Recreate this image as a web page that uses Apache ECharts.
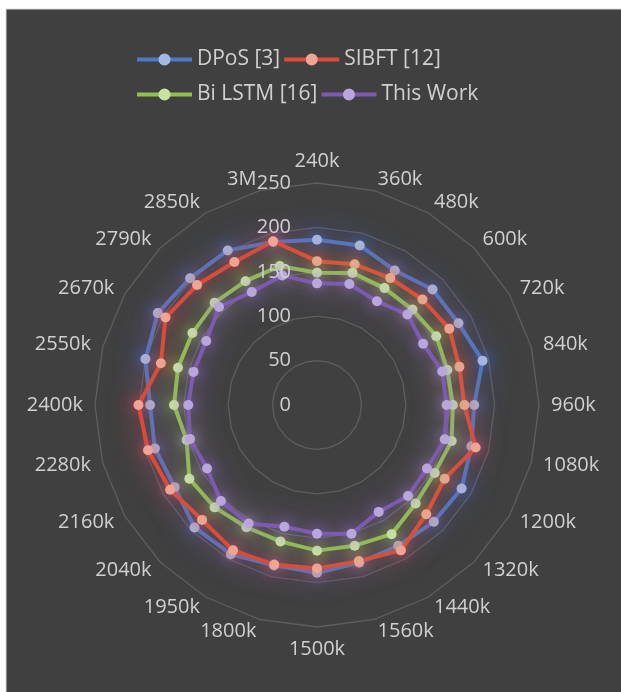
<!DOCTYPE html>
<html>
<head>
<meta charset="utf-8">
<script src="https://cdn.jsdelivr.net/npm/echarts@6/dist/echarts.min.js"></script>
<style>
  html, body { margin: 0; padding: 0; background: #ffffff; }
  #chart { width: 621px; height: 692px; }
</style>
</head>
<body>
<div id="chart"></div>
<script>
// Throughput points around the radar, listed clockwise from the top
const categories = ['240k', '360k', '480k', '600k', '720k', '840k', '960k', '1080k',
  '1200k', '1320k', '1440k', '1560k', '1500k', '1800k', '1950k', '2040k', '2160k',
  '2280k', '2400k', '2550k', '2670k', '2790k', '2850k', '3M'];

const dposValues     = [186, 186, 175, 184, 184, 193, 177, 180, 188, 186, 183, 184, 189, 187, 194, 195, 185, 189, 188, 200, 207, 202, 201, 190];
const sibftValues    = [162, 164, 165, 168, 172, 166, 166, 185, 166, 174, 189, 182, 184, 186, 189, 183, 191, 197, 201, 182, 197, 191, 186, 191];
const biLstmValues   = [149, 154, 152, 152, 155, 152, 153, 157, 153, 157, 168, 164, 164, 159, 159, 163, 166, 152, 161, 162, 162, 163, 161, 162];
const thisWorkValues = [137, 141, 135, 144, 138, 146, 146, 149, 143, 145, 139, 150, 145, 142, 154, 153, 143, 148, 145, 144, 144, 156, 147, 151];

const seriesNames = ['DPoS [3]', 'SIBFT [12]', 'Bi LSTM [16]', 'This Work'];
const axisMax = 250;
const axisStep = 50;

const lineColors   = ['#4f78c4', '#dc4a3a', '#92c050', '#7b5bb0'];
const markerColors = ['#a3b9e3', '#f2a395', '#c8e2a2', '#b9a6dc'];
const glowColors   = ['rgba(70,120,240,1)', 'rgba(240,70,60,1)', 'rgba(165,215,70,0.95)', 'rgba(155,100,225,1)'];

const textColor = '#d0d0d0';
const fontFamily = '"Open Sans", "Liberation Sans", sans-serif';
const center = [317, 405];
const radius = 222;

// ECharts lays radar indicators out counter-clockwise; walk the list
// backwards after the first entry so the categories run clockwise.
const order = [0].concat(categories.map((_, i) => categories.length - 1 - i).slice(0, categories.length - 1));

const valueSets = [dposValues, sibftValues, biLstmValues, thisWorkValues];

const series = valueSets.map((vals, i) => ({
  name: seriesNames[i],
  type: 'radar',
  radarIndex: 0,
  z: 2 + i,
  symbol: 'circle',
  symbolSize: 10,
  lineStyle: { color: lineColors[i], width: 4, shadowBlur: 28, shadowColor: glowColors[i] },
  itemStyle: { color: markerColors[i], shadowBlur: 14, shadowColor: glowColors[i] },
  data: [{ value: order.map(k => vals[k]), name: seriesNames[i] }]
}));

// Legend: a line layer and a marker layer stacked at the same spot.
// The zero-length sub-paths pin each icon's box to the full 55 x 12 slot.
const lineIcon = 'path://M0,4 L55,4 L55,8 L0,8 Z';
const dotIcon = 'path://M0,0 L0,0 Z M55,12 L55,12 Z M21.5,6 A6,6 0 1,1 33.5,6 A6,6 0 1,1 21.5,6 Z';

function legendLayer(names, offset, top, dotLayer) {
  return {
    left: 137,
    top: top,
    padding: 0,
    z: dotLayer ? 6 : 5,
    itemGap: 4,
    itemWidth: 55,
    itemHeight: 12,
    icon: dotLayer ? dotIcon : lineIcon,
    data: names.map((n, j) => ({
      name: n,
      itemStyle: { color: dotLayer ? markerColors[offset + j] : lineColors[offset + j] }
    })),
    formatter: name => '{t|' + name + '}',
    textStyle: {
      color: dotLayer ? 'rgba(0,0,0,0)' : textColor,
      fontSize: 21, fontFamily: fontFamily,
      rich: { t: { width: 124, fontSize: 21, fontFamily: fontFamily, color: dotLayer ? 'rgba(0,0,0,0)' : textColor } }
    }
  };
}

const option = {
  backgroundColor: '#ffffff',
  animation: false,
  graphic: [{
    type: 'rect',
    z: -10,
    silent: true,
    shape: { x: 6, y: 9, width: 616, height: 684 },
    style: { fill: '#404040', stroke: '#d9d9d9', lineWidth: 1 }
  }],
  legend: [
    legendLayer(seriesNames.slice(0, 2), 0, 49, false),
    legendLayer(seriesNames.slice(0, 2), 0, 49, true),
    legendLayer(seriesNames.slice(2, 4), 2, 84, false),
    legendLayer(seriesNames.slice(2, 4), 2, 84, true)
  ],
  radar: {
    center: center,
    radius: radius,
    startAngle: 90,
    shape: 'polygon',
    splitNumber: axisMax / axisStep,
    indicator: order.map(k => ({ name: categories[k], min: 0, max: axisMax })),
    axisName: { color: textColor, fontSize: 20, fontFamily: fontFamily },
    nameGap: 12,
    axisLine: { show: false },
    axisTick: { show: false },
    axisLabel: { show: false },
    splitArea: { show: false },
    splitLine: { lineStyle: { color: '#5e5e5e', width: 1.3 } }
  },
  polar: { center: center, radius: radius },
  angleAxis: { type: 'value', min: 0, max: 360, startAngle: 90, show: false },
  radiusAxis: {
    type: 'value',
    zlevel: 1,
    min: 0,
    max: axisMax,
    interval: axisStep,
    axisLine: { show: false },
    axisTick: { show: false },
    splitLine: { show: false },
    axisLabel: { color: textColor, fontSize: 20, fontFamily: fontFamily, margin: 26 }
  },
  series: series
};

const chart = echarts.init(document.getElementById('chart'), null, { renderer: 'canvas' });
chart.setOption(option);
</script>
</body>
</html>
